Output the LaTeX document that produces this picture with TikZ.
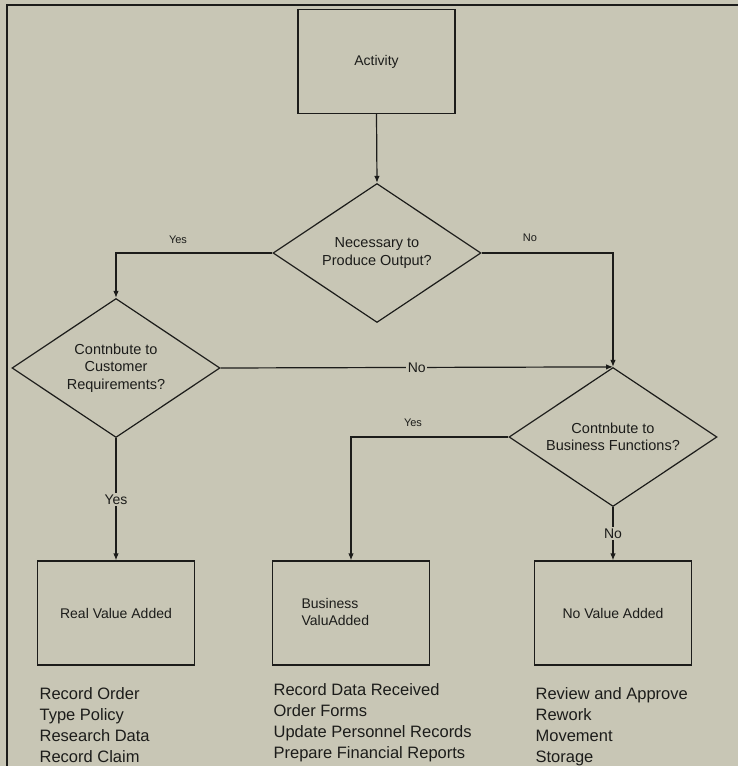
\documentclass[tikz,border=0pt]{standalone}
\usepackage{fontspec}
\setmainfont{Liberation Sans}
\usetikzlibrary{shapes.geometric,arrows.meta}
\definecolor{bg}{HTML}{C8C6B5}
\definecolor{ink}{HTML}{1C1C1A}
\begin{document}
\begin{tikzpicture}[x=1pt,y=-1pt,line width=1.2pt,
  box/.style={draw=ink,minimum width=157pt,minimum height=104pt,inner sep=0pt,
    text=ink,font=\fontsize{14}{17}\selectfont},
  dec/.style={diamond,draw=ink,aspect=1.5,minimum width=208pt,minimum height=139pt,
    inner sep=0pt,align=center,text=ink,font=\fontsize{14.5}{17.5}\selectfont},
  arr/.style={draw=ink,-{Latex[length=7pt,width=5.5pt]}},
  lbl/.style={text=ink,inner sep=1.5pt,font=\fontsize{14}{16}\selectfont},
  smalllbl/.style={text=ink,inner sep=0pt,font=\fontsize{11}{13}\selectfont},
  item/.style={anchor=base west,inner sep=0pt,text=ink,font=\fontsize{16.5}{20}\selectfont}]
\fill[bg] (0,0) rectangle (738,766);
\useasboundingbox (0,0) rectangle (738,766);
% frame
\draw[ink,line width=1.3pt] (7,766) -- (7,5) -- (738,5);
% nodes
\node[box] (act) at (376.5,61.5) {Activity};
\node[dec] (d1) at (377,253) {Necessary to\\Produce Output?};
\node[dec] (d2) at (116,368) {Contnbute to\\Customer\\Requirements?};
\node[dec] (d3) at (613,437) {Contnbute to\\Business Functions?};
\node[box] (rva) at (116,613) {Real Value Added};
\node[box] (bva) at (351,613) {};
\node[anchor=west,align=left,inner sep=0pt,text=ink,font=\fontsize{14}{17}\selectfont] (bvat) at (301,611.5) {Business\\ValuAdded};
\node[box] (nva) at (613,613) {No Value Added};
% connectors
\draw[arr] (act.south) -- (d1.north);
\draw[arr] (d1.west) -| (d2.north);
\node[smalllbl] (ly1) at (178,240) {Yes};
\draw[arr] (d1.east) -| (d3.north);
\node[smalllbl] (ln1) at (530,238) {No};
\draw[arr] (d2.east) -- node[lbl,fill=bg] (ln2) {No} (d3.north);
\draw[arr] (d2.south) -- node[lbl,fill=bg] (ly2) {Yes} (rva.north);
\draw[arr] (d3.west) -| (bva.north);
\node[smalllbl] (ly3) at (413,423) {Yes};
\draw[arr] (d3.south) -- node[lbl,fill=bg] (ln3) {No} (nva.north);
% lists
\node[item] (a1) at (39,699) {Record Order};
\node[item] (a2) at (39,720) {Type Policy};
\node[item] (a3) at (39,741) {Research Data};
\node[item] (a4) at (39,762) {Record Claim};
\node[item] (b1) at (273,695) {Record Data Received};
\node[item] (b2) at (273,716) {Order Forms};
\node[item] (b3) at (273,737) {Update Personnel Records};
\node[item] (b4) at (273,758) {Prepare Financial Reports};
\node[item] (c1) at (535,699) {Review and Approve};
\node[item] (c2) at (535,720) {Rework};
\node[item] (c3) at (535,741) {Movement};
\node[item] (c4) at (535,762) {Storage};
\end{tikzpicture}
\end{document}
